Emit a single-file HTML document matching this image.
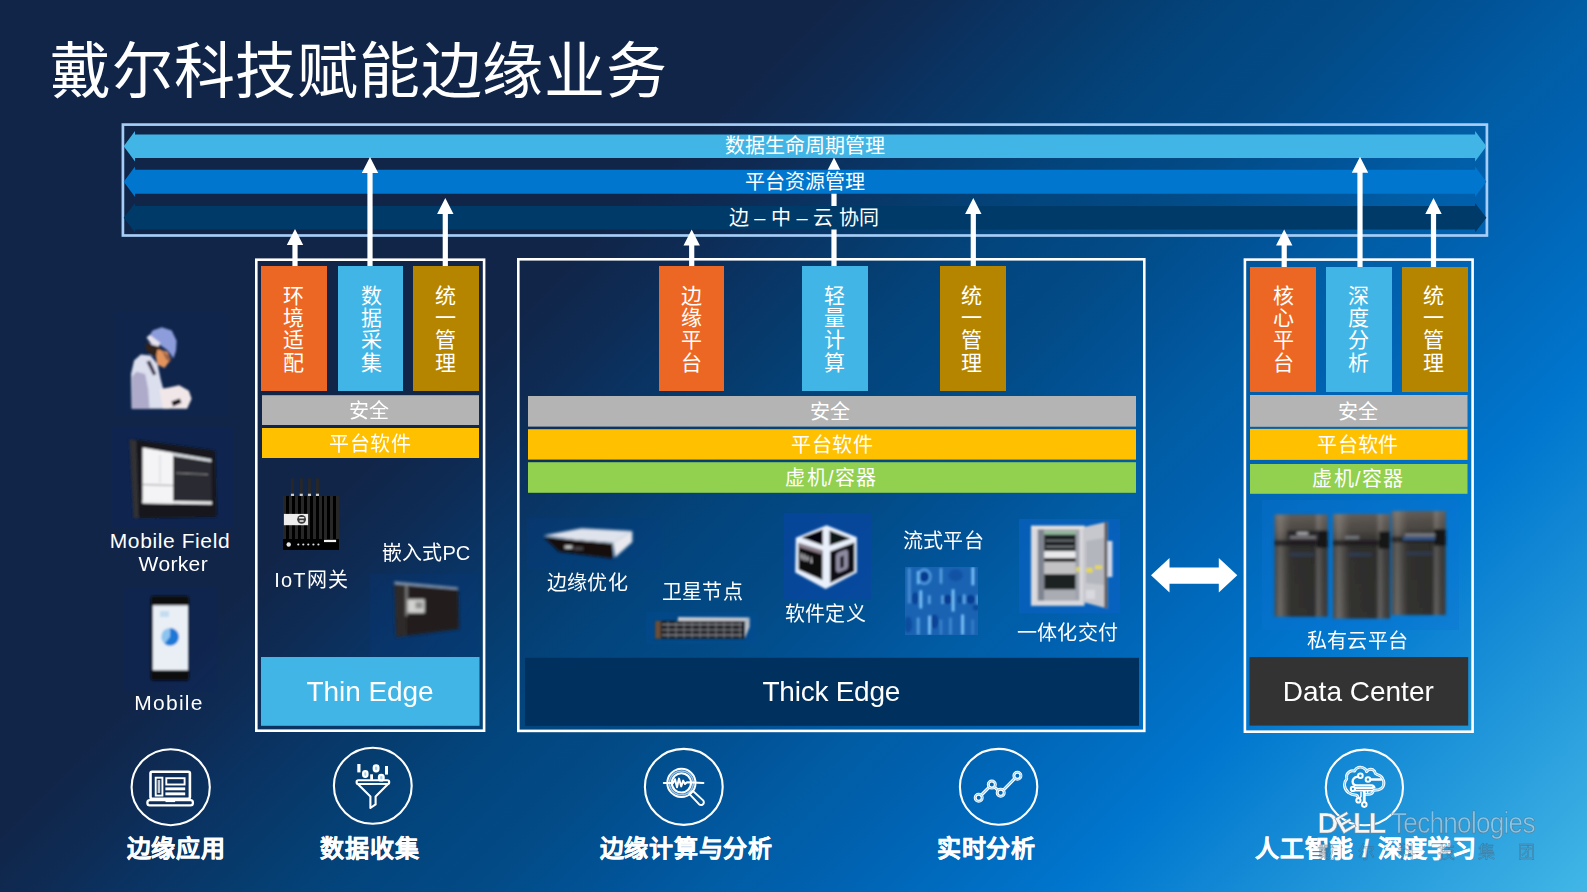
<!DOCTYPE html>
<html lang="zh-CN">
<head>
<meta charset="utf-8">
<title>戴尔科技赋能边缘业务</title>
<style>
*{margin:0;padding:0;box-sizing:border-box}
html,body{width:1587px;height:892px;overflow:hidden}
body{position:relative;font-family:"Liberation Sans",sans-serif;color:#fff;
background:linear-gradient(135deg,#112548 0%,#112548 33.5%,#0e2b54 37.5%,#0a3362 41%,#063c6e 45.2%,#03447c 49.3%,#024b87 55.4%,#01559b 61.3%,#015ca3 64%,#0060ae 68%,#0076ce 79%,#41b6e6 100%)}
svg{position:absolute;left:0;top:0}
.t{position:absolute;white-space:nowrap;line-height:1;color:#fff}
.c{text-align:center}
.title{left:50px;top:41.6px;font-size:61px;letter-spacing:.75px}
.band{font-size:20px}
.v{width:22px;font-size:21px;line-height:22.2px;white-space:normal;text-align:center;word-break:break-all}
.bar{font-size:20px;letter-spacing:.45px}
.lab{font-size:20px;letter-spacing:.4px}
.en{font-size:21px;letter-spacing:.35px}
.big{font-size:28px;letter-spacing:-.25px}
.bl{font-size:24px;font-weight:700;letter-spacing:.7px;-webkit-text-stroke:.35px #fff}
.lg1{left:1317.4px;top:809.1px;font-size:29px;font-weight:700;letter-spacing:-1.9px;color:#f4f6f8;-webkit-text-stroke:.7px rgba(120,130,140,.85)}
.lg1 .le{display:inline-block;transform:rotate(-30deg) scale(.88);margin:0 -.5px}
.lg2{left:1390.6px;top:809.1px;font-size:29px;letter-spacing:-.84px;color:rgba(222,235,245,.5);-webkit-text-stroke:.6px rgba(88,104,120,.75);transform-origin:0 0;transform:scaleX(.903)}
.lg3{left:1318px;top:844px;font-size:17px;color:rgba(120,140,160,.18);-webkit-text-stroke:.4px rgba(70,88,104,.65)}
.lg3 span{display:inline-block;width:40px}
</style>
</head>
<body>
<svg width="1587" height="892" viewBox="0 0 1587 892">
<defs><filter id="b1" x="-20%" y="-20%" width="140%" height="140%"><feGaussianBlur stdDeviation="0.9"/></filter><filter id="b2" x="-20%" y="-20%" width="140%" height="140%"><feGaussianBlur stdDeviation="1.6"/></filter><filter id="b05" x="-20%" y="-20%" width="140%" height="140%"><feGaussianBlur stdDeviation="0.5"/></filter></defs>
<rect x="122.9" y="124.6" width="1364" height="110.9" fill="none" stroke="#a6cdf6" stroke-width="2.7"/>
<path fill="#fff" d="M834 157.6L842.2 173.6L836.6 173.6L836.6 266L831.4 266L831.4 173.6L825.8 173.6Z"/>
<path fill="#41b6e6" d="M123.7 146.2L135.0 131.0L135.0 134.39999999999998L1475.1000000000001 134.39999999999998L1475.1000000000001 131.0L1486.4 146.2L1475.1000000000001 161.39999999999998L1475.1000000000001 158.0L135.0 158.0L135.0 161.39999999999998Z"/>
<path fill="#0076ce" d="M123.7 181.8L135.0 166.60000000000002L135.0 169.8L1475.1000000000001 169.8L1475.1000000000001 166.60000000000002L1486.4 181.8L1475.1000000000001 197.0L1475.1000000000001 193.8L135.0 193.8L135.0 197.0Z"/>
<path fill="#003a68" d="M123.7 217.7L135.0 203.0L135.0 205.89999999999998L1475.1000000000001 205.89999999999998L1475.1000000000001 203.0L1486.4 217.7L1475.1000000000001 232.39999999999998L1475.1000000000001 229.5L135.0 229.5L135.0 232.39999999999998Z"/>
<path fill="#fff" d="M295 229L303.2 245L297.6 245L297.6 267L292.4 267L292.4 245L286.8 245Z"/>
<path fill="#fff" d="M370 157L378.2 173L372.6 173L372.6 267L367.4 267L367.4 173L361.8 173Z"/>
<path fill="#fff" d="M445.3 198L453.5 214L447.90000000000003 214L447.90000000000003 267L442.7 267L442.7 214L437.1 214Z"/>
<path fill="#fff" d="M691.7 229.5L699.9000000000001 245.5L694.3000000000001 245.5L694.3000000000001 267L689.1 267L689.1 245.5L683.5 245.5Z"/>
<path fill="#fff" d="M973.3 198L981.5 214L975.9 214L975.9 267L970.6999999999999 267L970.6999999999999 214L965.0999999999999 214Z"/>
<path fill="#fff" d="M1284.2 229.4L1292.4 245.4L1286.8 245.4L1286.8 267L1281.6000000000001 267L1281.6000000000001 245.4L1276.0 245.4Z"/>
<path fill="#fff" d="M1360 156.8L1368.2 172.8L1362.6 172.8L1362.6 267L1357.4 267L1357.4 172.8L1351.8 172.8Z"/>
<path fill="#fff" d="M1433.5 198L1441.7 214L1436.1 214L1436.1 267L1430.9 267L1430.9 214L1425.3 214Z"/>
<rect x="256.3" y="259.7" width="227.79999999999998" height="471.0" fill="none" stroke="#fff" stroke-width="2.6"/>
<rect x="518.3" y="259.3" width="625.9999999999999" height="471.6" fill="none" stroke="#fff" stroke-width="2.6"/>
<rect x="1244.8999999999999" y="259.6" width="227.7000000000002" height="472.09999999999997" fill="none" stroke="#fff" stroke-width="2.6"/>
<rect x="261" y="266" width="66" height="125" fill="#ed6724"/>
<rect x="338" y="266" width="65" height="125" fill="#41b6e6"/>
<rect x="413" y="266" width="66" height="125" fill="#b58500"/>
<rect x="659" y="266" width="65" height="125" fill="#ed6724"/>
<rect x="802" y="266" width="66" height="125" fill="#41b6e6"/>
<rect x="940" y="266" width="66" height="125" fill="#b58500"/>
<rect x="1250" y="267" width="66" height="125" fill="#ed6724"/>
<rect x="1326" y="267" width="66" height="125" fill="#41b6e6"/>
<rect x="1402" y="267" width="66" height="125" fill="#b58500"/>
<rect x="262" y="395.2" width="217" height="29.8" fill="#b4b4b4"/>
<rect x="262" y="428" width="217" height="30" fill="#ffc000"/>
<rect x="528" y="396" width="608" height="30.6" fill="#b4b4b4"/>
<rect x="528" y="429.2" width="608" height="30.4" fill="#ffc000"/>
<rect x="528" y="462.2" width="608" height="30.6" fill="#92d050"/>
<rect x="1250" y="395" width="217.5" height="31.8" fill="#b4b4b4"/>
<rect x="1250" y="428.9" width="217.5" height="31.0" fill="#ffc000"/>
<rect x="1250" y="464" width="217.5" height="29.8" fill="#92d050"/>
<rect x="261" y="657" width="218.5" height="68.8" fill="#41b6e6"/>
<rect x="525" y="657.8" width="614" height="68.0" fill="#00305e"/>
<rect x="1249.5" y="657" width="218.7" height="68.6" fill="#333333"/>
<path fill="#fff" d="M1151 575.3L1169.5 558L1169.5 567.6L1218.8 567.6L1218.8 558L1237.3 575.3L1218.8 592.6L1218.8 583.8L1169.5 583.8L1169.5 592.6Z"/>
<!-- image backdrops (subtle saturated blue tint like pasted pictures) -->
<g opacity="0.38">
<rect x="113" y="312" width="114" height="104" fill="#0b2a63" opacity="0.5"/>
<rect x="112" y="428" width="122" height="100" fill="#0a2c70" opacity="0.6"/>
<rect x="124" y="588" width="94" height="104" fill="#0b2a68" opacity="0.5"/>
<rect x="370" y="574" width="108.5" height="82" fill="#063c86" opacity="0.55"/>
<rect x="527" y="518" width="134" height="52" fill="#053f8c" opacity="0.6"/>
<rect x="646" y="612" width="112" height="32" fill="#0552a8" opacity="0.5"/>
</g>
<rect x="784" y="513" width="87" height="87" fill="#0946a2" opacity="0.7"/>
<rect x="1019" y="519" width="101" height="94.5" fill="#0a62c6" opacity="0.6"/>
<rect x="1262" y="500" width="197" height="130" fill="#0b74d4" opacity="0.35"/>

<!-- worker -->
<defs><filter id="b12" x="-20%" y="-20%" width="140%" height="140%"><feGaussianBlur stdDeviation="1.15"/></filter></defs>
<g filter="url(#b12)">
<path d="M131.6 408.7L131.0 374.1L134.1 360.6L140.8 354.6L150.7 355.4L157.5 364.3L160.6 379.1L163.3 388.9L169.8 408.7Z" fill="#dcdfee"/>
<path d="M132.2 408.7L132.0 376.6L136.5 371.7L145.2 374.1L148.2 388.9L149.5 408.7Z" fill="#aeaaca"/>
<path d="M146.4 361.8L150.1 360.6L156.3 374.1L153.2 375.4Z" fill="#3b3650"/>
<path d="M145.2 343.1L159.3 345.5L162.4 352.6L154.4 355.9L146.4 351.3Z" fill="#33241f"/>
<path d="M157.5 349.2L167.7 351.7L170.7 359.6L164.5 368.0L157.4 364.5L155.9 356.9Z" fill="#e3945c"/>
<path d="M161.8 350.7L171.7 356.9L171.1 363.0L166.1 359.3Z" fill="#5a3a3a" opacity="0.55"/>
<path d="M149.2 336.1L152.6 330.4L161.8 327.3L171.7 330.4L176.6 340.8L176.0 350.7L173.5 358.3L168.0 350.7L158.7 343.9Z" fill="#8d9ddb"/>
<path d="M146.5 337.4L149.7 334.7L160.3 343.1L158.7 346.5L151.9 344.8Z" fill="#e7e3ee"/>
<path d="M159.3 388.9L168.0 387.7L179.1 385.2L188.9 390.8L191.6 398.8L187.1 408.7L163.0 408.7Z" fill="#f1e7e8"/>
<path d="M171.4 401.5L179.8 398.6L181.5 402.7L173.1 406.4Z" fill="#15101a"/>
</g>

<!-- tablet -->
<g filter="url(#b1)">
<path d="M129.5 439L215 450.5L216.8 517L133.5 518Z" fill="#17171a"/>
<path d="M129.5 439L136.5 440.5L139 518L133.5 518Z" fill="#303036"/>
<path d="M142.5 447.5L211.3 459.3L211.9 504.5L142.5 503.3Z" fill="#2b2c30"/>
<path d="M142.5 447.5L173.2 452.8L173.2 503.8L142.5 503.3Z" fill="#f4f4f6"/>
<path d="M173.2 452.8L211.3 459.3L211.3 462L173.2 456Z" fill="#d8dde2"/>
<path d="M142.5 500.5L211.9 501.6L211.9 504.5L142.5 503.3Z" fill="#f0f0f2"/>
<path d="M143 484.5L173 485.5" stroke="#9a9aa2" stroke-width="1"/>
<path d="M176 473L208 474.5" stroke="#8c8c90" stroke-width="1.2"/>
<path d="M160 455L160 483" stroke="#cfd2d8" stroke-width="1"/>
</g>

<!-- phone -->
<g filter="url(#b1)">
<rect x="150.8" y="596" width="38.2" height="84.6" rx="3" fill="#0c0c10"/>
<rect x="152.7" y="605.3" width="35.5" height="65" fill="#e9eff5"/>
<circle cx="170" cy="636.8" r="8.8" fill="#8cc4f0"/>
<path d="M170 628A8.8 8.8 0 1 1 164.5 643.7L170 636.8Z" fill="#1d78d6"/>
<rect x="160" y="611" width="9" height="6" fill="#c4dcf0"/>
</g>

<!-- IoT gateway (crisp) -->
<g>
<rect x="283" y="496" width="56" height="54" fill="#000"/>
<g fill="#272727">
<rect x="283" y="496" width="3" height="43"/><rect x="289" y="496" width="3" height="43"/><rect x="295" y="496" width="3" height="43"/><rect x="301" y="496" width="3" height="43"/><rect x="307" y="496" width="3" height="43"/><rect x="313" y="496" width="3" height="43"/><rect x="319" y="496" width="3" height="43"/><rect x="324" y="496" width="3" height="43"/><rect x="330" y="496" width="3" height="43"/><rect x="336" y="496" width="3" height="43"/>
<rect x="291" y="478.3" width="2.9" height="15.5"/><rect x="299.8" y="478.3" width="2.9" height="15.5"/><rect x="308" y="478.3" width="2.9" height="15.5"/><rect x="316" y="478.3" width="2.9" height="15.5"/>
</g>
<g fill="#c9c9c9"><rect x="290.9" y="493.7" width="3.1" height="2.3"/><rect x="299.7" y="493.7" width="3.1" height="2.3"/><rect x="307.9" y="493.7" width="3.1" height="2.3"/><rect x="315.9" y="493.7" width="3.1" height="2.3"/></g>
<rect x="283.9" y="513.9" width="24.2" height="11.3" fill="#ededed"/>
<circle cx="301.6" cy="519.3" r="4.4" fill="#3c3c3c"/>
<rect x="298.8" y="516.9" width="5.6" height="1.6" rx="0.8" fill="#ededed"/><rect x="299.4" y="520.3" width="4.4" height="1.5" rx="0.7" fill="#ededed"/>
<circle cx="288.7" cy="544.5" r="2.2" fill="#e8e8e8"/>
<g fill="#e0e0e0"><circle cx="298.3" cy="544.5" r="1.1"/><circle cx="303.3" cy="544.5" r="1.1"/><circle cx="308.3" cy="544.5" r="1.1"/><circle cx="313.4" cy="544.5" r="1.1"/><circle cx="318.4" cy="544.5" r="1.1"/></g>
<rect x="324" y="539.8" width="12.1" height="2.3" fill="#f2f2f2"/>
</g>

<!-- embedded PC -->
<g filter="url(#b2)">
<path d="M394.5 582L458 588L459 629L396 637Z" fill="#231f1c"/>
<path d="M394.5 582L406 583.2L407 635.5L396 637Z" fill="#2e2b29"/>
<path d="M394.5 581.5L458 587.5L458 589.5L394.5 584Z" fill="#8fa2bd"/>
<rect x="405.5" y="584" width="2" height="32" fill="#8a8a8a"/>
<rect x="407.6" y="599.3" width="17" height="13.6" fill="#d2d2d0"/>
<rect x="415.5" y="602" width="7" height="6.5" fill="#8e8e8e"/>
</g>

<!-- edge server -->
<g filter="url(#b2)">
<path d="M543.5 535.5L581.5 528.2L632.3 531L613.2 543L575 540Z" fill="#dfe3ec"/>
<path d="M543.8 537L612.8 543.6L612.8 558.6L559 551.6Z" fill="#160f0e"/>
<path d="M613 543L632.3 531L632.3 542L615 557.5Z" fill="#e9e9ef"/>
<rect x="565" y="546" width="7" height="2.2" fill="#e8e8e8"/>
<rect x="574" y="547.5" width="9" height="2" fill="#5a5a60"/>
</g>

<!-- rack server -->
<g filter="url(#b1)">
<path d="M678 617L749.6 617.6L744.8 622L678 621Z" fill="#c5c8cf"/>
<path d="M744.8 622L749.6 617.6L749.6 627L744.8 638.5Z" fill="#b9bdc6"/>
<rect x="655.2" y="621" width="89.6" height="17.6" fill="#1b1b1d"/>
<rect x="655.2" y="621" width="5.5" height="17.6" fill="#6a5038"/>
<g stroke="#9a9da6" stroke-width="1.3" fill="none" opacity="0.8">
<path d="M662 624.5h80M662 629.8h80M662 635h80"/>
<path d="M668 622v16M676 622v16M684 622v16M692 622v16M700 622v16M708 622v16M716 622v16M724 622v16M732 622v16M740 622v16" stroke-width="1"/>
</g>
</g>

<!-- cube -->
<g filter="url(#b1)">
<path d="M826.6 525.2L856.8 537.2L856.8 572.6L825.6 589L795.2 572.6L795.8 537.8Z" fill="#e9f0fb"/>
<path d="M801.5 537.6L822.6 529.6L822.6 545.2Z" fill="#050507"/>
<path d="M829.6 530.6L850.6 538.4L829.6 545.4Z" fill="#0a1216"/>
<path d="M798.6 543L822.4 550.6L822.4 580L798.6 569.4Z" fill="#0d0b10"/>
<path d="M798.6 543L822.4 550.6L822.4 554.6L798.6 547Z" fill="#8d7f8a"/>
<path d="M830.2 551.6L854.4 542.6L854.4 571.4L830.2 583Z" fill="#0b0a12"/>
<path d="M836 556Q836 553 839 552L846 549.5Q848 549.5 848 552L848 566Q848 569 845 570L839 572.5Q836 573 836 570Z" fill="#8d8aa0"/>
<path d="M840 557L844 555.5L844 567L840 568.5Z" fill="#23202c"/>
<path d="M801 553l1 7M804 554l1 7M807 555.5l1 6M811 557l0.5 6" stroke="#e8e8ee" stroke-width="1.1"/>
</g>

<!-- data stream tile -->
<g>
<rect x="905" y="567" width="73" height="68" fill="#1a63b3"/>
<clipPath id="tc"><rect x="905" y="567" width="73" height="68"/></clipPath>
<g clip-path="url(#tc)"><g filter="url(#b1)">
<g fill="#00378c">
<ellipse cx="924.3" cy="576.7" rx="4.2" ry="4.8" opacity="0.9"/><ellipse cx="915.2" cy="598.4" rx="3.8" ry="6.1" opacity="0.7"/><ellipse cx="948.0" cy="599.4" rx="6.1" ry="4.5" opacity="0.85"/><ellipse cx="970.7" cy="599.4" rx="4.0" ry="4.5" opacity="0.85"/><ellipse cx="934.4" cy="621.6" rx="4.2" ry="7.1" opacity="0.7"/><ellipse cx="975.8" cy="607.5" rx="3.0" ry="3.0" opacity="0.6"/><ellipse cx="955.6" cy="575.2" rx="7.1" ry="6.1" opacity="0.35"/><ellipse cx="908.2" cy="624.6" rx="4.0" ry="8.1" opacity="0.5"/><ellipse cx="959.6" cy="599.4" rx="2.5" ry="4.0" opacity="0.5"/>
</g>
<g fill="#7cc4fb">
<rect x="907.7" y="568.1" width="3.0" height="35.3" opacity="0.45"/><rect x="916.9" y="571.1" width="2.6" height="13.1" opacity="0.95"/><rect x="939.8" y="568.1" width="2.4" height="15.6" opacity="0.7"/><rect x="971.5" y="567.1" width="2.8" height="18.2" opacity="1"/><rect x="919.4" y="590.3" width="2.8" height="18.2" opacity="1"/><rect x="928.2" y="595.4" width="2.2" height="8.6" opacity="0.8"/><rect x="941.4" y="595.4" width="2.2" height="8.6" opacity="0.8"/><rect x="951.7" y="589.3" width="2.8" height="22.2" opacity="1"/><rect x="963.1" y="594.4" width="2.2" height="9.6" opacity="0.85"/><rect x="976.5" y="594.9" width="1.8" height="9.1" opacity="0.8"/><rect x="916.8" y="617.6" width="2.8" height="17.2" opacity="0.6"/><rect x="928.1" y="615.6" width="2.8" height="19.2" opacity="1"/><rect x="961.1" y="614.5" width="3.0" height="20.2" opacity="0.95"/><rect x="949.2" y="617.6" width="2.6" height="17.2" opacity="0.4"/><rect x="939.8" y="619.6" width="2.4" height="15.1" opacity="0.35"/><rect x="971.5" y="619.6" width="2.4" height="15.1" opacity="0.3"/>
</g>
<ellipse cx="924.3" cy="576.7" rx="6.3" ry="7.2" fill="none" stroke="#6db6f3" stroke-width="1.8" opacity="0.8"/>
</g></g>
</g>

<!-- cabinet -->
<g filter="url(#b1)">
<rect x="1031" y="525.8" width="53.5" height="80" fill="#d9d9de"/>
<rect x="1037.5" y="529.5" width="42" height="71" fill="#9fa3ab"/>
<rect x="1038" y="529.5" width="6" height="71" fill="#7f8590"/>
<rect x="1044.3" y="531.5" width="31.2" height="3" fill="#8fbf9a"/>
<rect x="1044.3" y="534.7" width="31.2" height="16.5" fill="#1e2123"/>
<rect x="1046" y="540" width="28" height="1.3" fill="#7a7f85"/>
<rect x="1046" y="546" width="28" height="1.3" fill="#8a8f95"/>
<rect x="1044.3" y="551.2" width="31.2" height="7" fill="#e9e9ec"/>
<rect x="1044.3" y="558" width="31.2" height="3.8" fill="#17181a"/>
<rect x="1044.3" y="561.8" width="31.2" height="12.4" fill="#c2c2c4"/>
<rect x="1044.3" y="574.2" width="31.2" height="15.4" fill="#1f2223"/>
<rect x="1044.3" y="589.6" width="31.2" height="10" fill="#a9acb3"/>
<path d="M1082.8 527.3L1107.4 521.8L1107.4 608.6L1082.8 601.9Z" fill="#c7c8ce"/>
<path d="M1086 541L1104 538L1104 585L1086 583Z" fill="#b4b6be"/>
<rect x="1104.5" y="522" width="2.6" height="86" fill="#5a4a42"/>
<rect x="1107.4" y="541" width="5" height="36" fill="#d3d8e6"/>
<rect x="1086.5" y="568" width="6" height="4.5" fill="#e8d84a"/>
<rect x="1095" y="565.5" width="7" height="3.5" fill="#e8d84a"/>
<rect x="1076" y="567" width="4" height="5" fill="#d8cf6a"/>
<rect x="1086" y="590" width="9" height="9" fill="#d9dadf"/>
<rect x="1031" y="525.8" width="53.5" height="2.6" fill="#ece4de"/>
</g>

<!-- storage racks -->
<defs>
<linearGradient id="rk" x1="0" x2="1" y1="0" y2="0">
<stop offset="0" stop-color="#4a4846"/><stop offset="0.1" stop-color="#77746f"/><stop offset="0.22" stop-color="#4d4a47"/><stop offset="0.3" stop-color="#343331"/><stop offset="0.75" stop-color="#2f2f2d"/><stop offset="0.82" stop-color="#6e6c6a"/><stop offset="0.9" stop-color="#4a4846"/><stop offset="1" stop-color="#3a3836"/>
</linearGradient>
<linearGradient id="rkv" x1="0" x2="0" y1="0" y2="1">
<stop offset="0" stop-color="#8a8078" stop-opacity="0.55"/><stop offset="0.16" stop-color="#70665e" stop-opacity="0.4"/><stop offset="0.3" stop-color="#222" stop-opacity="0.25"/><stop offset="1" stop-color="#222" stop-opacity="0.1"/>
</linearGradient>
</defs>
<g filter="url(#b2)">
<g id="rack1">
<rect x="1274.6" y="514.6" width="53" height="102" fill="url(#rk)"/>
<rect x="1274.6" y="514.6" width="53" height="102" fill="url(#rkv)"/>
<rect x="1274.6" y="540" width="53" height="6" fill="#1b1a1c" opacity="0.75"/>
<rect x="1317" y="530.5" width="10.6" height="17.5" fill="#121214"/>
<rect x="1287" y="530.5" width="32" height="8.5" fill="#26262a"/>
<rect x="1297" y="532.4" width="11" height="2.2" fill="#c8c8cc"/>
<rect x="1290" y="536.5" width="26" height="1.6" fill="#9a9aa0"/>
<rect x="1290" y="553" width="24" height="3" fill="#2d4f8a" opacity="0.4"/>
</g>
<g>
<rect x="1333" y="514" width="57" height="104.5" fill="url(#rk)"/>
<rect x="1333" y="514" width="57" height="104.5" fill="url(#rkv)"/>
<rect x="1333" y="540" width="57" height="6" fill="#1b1a1c" opacity="0.75"/>
<rect x="1379" y="531.5" width="11" height="17.5" fill="#121214"/>
<rect x="1345" y="536.5" width="14" height="2" fill="#8a8f98"/>
<rect x="1348" y="553" width="24" height="3" fill="#2d4f8a" opacity="0.4"/>
</g>
<g>
<rect x="1391.6" y="511" width="54" height="104" fill="url(#rk)"/>
<rect x="1391.6" y="511" width="54" height="104" fill="url(#rkv)"/>
<rect x="1391.6" y="536.5" width="54" height="6" fill="#1b1a1c" opacity="0.75"/>
<rect x="1434" y="529" width="11.6" height="17" fill="#121214"/>
<rect x="1405" y="534" width="30" height="2" fill="#8a8f98"/>
<rect x="1403" y="537.5" width="32" height="2" fill="#3a70b8"/>
<rect x="1406" y="552" width="26" height="3" fill="#2d4f8a" opacity="0.4"/>
</g>
</g>

<!-- icon circles -->
<g fill="none" stroke="#fff" stroke-width="2.1">
<ellipse cx="170.7" cy="787.2" rx="39.1" ry="38"/>
<ellipse cx="372.8" cy="785.8" rx="38.9" ry="38"/>
<ellipse cx="683.8" cy="786.9" rx="38.9" ry="38"/>
<ellipse cx="998.6" cy="786.8" rx="38.7" ry="37.9"/>
<ellipse cx="1364.4" cy="787.4" rx="38.6" ry="37.8"/>
</g>
<!-- laptop -->
<g fill="none" stroke="#fff" stroke-width="2.6" stroke-linejoin="round">
<rect x="150.5" y="771.7" width="39.4" height="27" rx="1.6"/>
<rect x="147.4" y="800.2" width="45.5" height="5.2" rx="2.4" stroke-width="2.3"/>
</g>
<rect x="165.5" y="798.7" width="9.6" height="3.4" fill="#fff"/>
<g fill="none" stroke="#fff" stroke-width="1.9">
<rect x="155.7" y="777.7" width="6.7" height="17.9"/>
<rect x="166.3" y="778.2" width="18.3" height="6.3"/>
</g>
<rect x="157.6" y="780" width="2.6" height="13" fill="#fff" opacity="0.75"/>
<rect x="165.4" y="787.4" width="19.8" height="2.9" fill="#fff"/>
<rect x="165.4" y="792.4" width="19.8" height="2.9" fill="#fff"/>
<!-- funnel -->
<g fill="none" stroke="#fff" stroke-width="2.1" stroke-linejoin="round" stroke-linecap="round">
<rect x="356.6" y="780.3" width="32.6" height="3.7" rx="1.8"/>
<path d="M358.3 784.6L370.4 796.4L370.4 808L375.6 804.4L375.6 796.4L387.6 784.6"/>
</g>
<path d="M369 783.6Q378 786.4 388 783.6Z" fill="#dff1ff"/>
<g fill="#fff">
<rect x="357.3" y="764" width="3.2" height="8.4"/>
<rect x="370.2" y="774.3" width="2.8" height="5.5"/>
<rect x="385" y="766" width="3" height="8.6"/>
</g>
<g fill="#9fd2f7" stroke="#fff" stroke-width="2.3">
<rect x="363.2" y="771.1" width="4.2" height="5.7" rx="2"/>
<rect x="373.8" y="765.3" width="4.6" height="6" rx="2.2"/>
<rect x="379" y="774.9" width="4.6" height="5.5" rx="2.2"/>
</g>
<!-- magnifier -->
<g fill="none" stroke="#fff">
<circle cx="681.4" cy="782.9" r="14.1" stroke-width="2"/>
<circle cx="681.4" cy="782.9" r="11.9" stroke="#bfe2ff" stroke-width="1.6" opacity="0.8"/>
<circle cx="681.4" cy="782.9" r="9.6" stroke-width="2.1"/>
<path d="M663.8 782.9L673.2 782.9L675 779.2L677 787.2L679 778.6L681.2 786.4L683.2 780.6L685 784L687 782.3L703.4 782.9" stroke-width="2" stroke-linejoin="round" stroke-linecap="round"/>
<path d="M689.3 793.9L692.7 790.8L703.4 800.6Q704.6 803 702.8 804.4Q701 805.8 699 804.2Z" stroke-width="1.9" stroke-linejoin="round"/>
</g>
<!-- line chart -->
<g fill="none" stroke="#fff" stroke-linecap="round">
<path d="M981.4 795L989.2 787.2M995 787.6L997.8 790M1003.6 789.8L1014.6 778.6" stroke-width="3.2"/>
<path d="M981.4 795L989.2 787.2M995 787.6L997.8 790M1003.6 789.8L1014.6 778.6" stroke="#49a8ec" stroke-width="0.9"/>
<circle cx="978.7" cy="797.7" r="3.5" stroke-width="3"/>
<circle cx="991.8" cy="784.6" r="3.5" stroke-width="3"/>
<circle cx="1000.7" cy="792.7" r="3.5" stroke-width="3"/>
<circle cx="1017.4" cy="775.8" r="3.5" stroke-width="3"/>
<g stroke="#7cc4f5" stroke-width="0.8"><circle cx="978.7" cy="797.7" r="3.7"/><circle cx="991.8" cy="784.6" r="3.7"/><circle cx="1000.7" cy="792.7" r="3.7"/><circle cx="1017.4" cy="775.8" r="3.7"/></g>
</g>
<!-- brain -->
<g fill="none" stroke="#fff" stroke-linejoin="round" stroke-linecap="round">
<path d="M1365.4 794.4L1368.3 794.4Q1372.4 794.2 1373 791.6Q1373.4 790.4 1374.2 790.3L1378.8 789.7Q1382.4 788.8 1383.5 785.6Q1384.6 781.8 1382.9 779.2Q1381.6 775.6 1377.4 774.6Q1376.4 774.2 1375.3 773.4Q1375 771 1373.2 769.9Q1370.6 768.6 1368.6 769.8Q1367.4 770.6 1366.6 771.7Q1366.2 769.6 1364.8 768.7Q1361.6 766.4 1358.4 767.4Q1355.6 768.4 1354.6 771Q1351.6 770.4 1349.4 771.8Q1346 774 1346.6 777.6Q1346.8 778.4 1346.6 779.2Q1344.2 781.6 1344.4 785Q1344.8 789.6 1348.4 792.6Q1351.6 794.8 1356.4 795.2Q1357.4 795.4 1357.6 796.4L1358 797.4" stroke-width="2.9"/>
<path d="M1365.4 794.4L1368.3 794.4Q1372.4 794.2 1373 791.6Q1373.4 790.4 1374.2 790.3L1378.8 789.7Q1382.4 788.8 1383.5 785.6Q1384.6 781.8 1382.9 779.2Q1381.6 775.6 1377.4 774.6Q1376.4 774.2 1375.3 773.4Q1375 771 1373.2 769.9Q1370.6 768.6 1368.6 769.8Q1367.4 770.6 1366.6 771.7Q1366.2 769.6 1364.8 768.7Q1361.6 766.4 1358.4 767.4Q1355.6 768.4 1354.6 771Q1351.6 770.4 1349.4 771.8Q1346 774 1346.6 777.6Q1346.8 778.4 1346.6 779.2Q1344.2 781.6 1344.4 785Q1344.8 789.6 1348.4 792.6Q1351.6 794.8 1356.4 795.2Q1357.4 795.4 1357.6 796.4L1358 797.4" stroke="#4fb0ee" stroke-width="0.7"/>
<path d="M1357.6 776.6Q1352.6 777.6 1352.6 781.6Q1352.8 785.2 1356.6 785.4L1372 785.4Q1373.6 785.6 1374.4 787.4" stroke-width="2.3"/>
<path d="M1371 779.5L1381 779.5" stroke-width="2.6"/>
<path d="M1355.6 788L1373 788" stroke-width="1.9"/>
<path d="M1355.4 790.6L1372.6 790.6" stroke-width="1.9"/>
<path d="M1364.3 791.6L1364.3 801.6" stroke-width="2.8"/>
<path d="M1361 792.2L1361 796.6L1359.6 798" stroke-width="1.5"/>
<path d="M1367.6 791.6L1367.6 793.6" stroke-width="1.5"/>
<g stroke-width="2">
<circle cx="1360.4" cy="775.7" r="2.3"/><circle cx="1368" cy="779.5" r="2.3"/><circle cx="1352.9" cy="788.9" r="2.1"/><circle cx="1358.4" cy="800.4" r="2.1"/><circle cx="1364.3" cy="804.6" r="2.3"/>
</g>
</g>

</svg>
<div class="t title">戴尔科技赋能边缘业务</div>
<div class="t c band" style="left:604.6px;top:136.2px;width:400px;">数据生命周期管理</div>
<div class="t c band" style="left:605.0px;top:171.5px;width:400px;">平台资源管理</div>
<div class="t c band" style="left:603.8px;top:208px;width:400px;">边 – 中 – 云 协同</div>
<div class="t v" style="left:282.5px;top:285px">环境适配</div>
<div class="t v" style="left:360.2px;top:285px">数据采集</div>
<div class="t v" style="left:434.3px;top:285px">统一管理</div>
<div class="t v" style="left:680.5px;top:285px">边缘平台</div>
<div class="t v" style="left:823.7px;top:285px">轻量计算</div>
<div class="t v" style="left:960.8px;top:285px">统一管理</div>
<div class="t v" style="left:1272px;top:285px">核心平台</div>
<div class="t v" style="left:1347.3px;top:285px">深度分析</div>
<div class="t v" style="left:1422.5px;top:285px">统一管理</div>
<div class="t c bar" style="left:169.5px;top:401.2px;width:400px;">安全</div>
<div class="t c bar" style="left:170.3px;top:434.2px;width:400px;">平台软件</div>
<div class="t c bar" style="left:630.2px;top:402.3px;width:400px;">安全</div>
<div class="t c bar" style="left:632.2px;top:435.4px;width:400px;">平台软件</div>
<div class="t c bar" style="left:631.4px;top:468.2px;width:400px;letter-spacing:1.4px">虚机/容器</div>
<div class="t c bar" style="left:1158.0px;top:401.5px;width:400px;">安全</div>
<div class="t c bar" style="left:1158.0px;top:435px;width:400px;">平台软件</div>
<div class="t c bar" style="left:1158.5px;top:469.3px;width:400px;letter-spacing:1.4px">虚机/容器</div>
<div class="t c en" style="left:-30.0px;top:529.5px;width:400px;letter-spacing:.6px">Mobile Field</div>
<div class="t c en" style="left:-26.69999999999999px;top:553.3px;width:400px;">Worker</div>
<div class="t c en" style="left:-31.0px;top:692.3px;width:400px;letter-spacing:1.25px">Mobile</div>
<div class="t c lab" style="left:111.60000000000002px;top:569.6px;width:400px;letter-spacing:1.2px">IoT网关</div>
<div class="t c lab" style="left:226.3px;top:543px;width:400px;letter-spacing:0">嵌入式PC</div>
<div class="t c lab" style="left:387.5px;top:573px;width:400px;">边缘优化</div>
<div class="t c lab" style="left:502.5px;top:582px;width:400px;">卫星节点</div>
<div class="t c lab" style="left:625.5px;top:604px;width:400px;">软件定义</div>
<div class="t c lab" style="left:743.5px;top:531px;width:400px;">流式平台</div>
<div class="t c lab" style="left:867.5px;top:622.5px;width:400px;">一体化交付</div>
<div class="t c lab" style="left:1157.7px;top:631px;width:400px;">私有云平台</div>
<div class="t c big" style="left:170.0px;top:678px;width:400px;letter-spacing:-.08px">Thin Edge</div>
<div class="t c big" style="left:631.3px;top:678px;width:400px;">Thick Edge</div>
<div class="t c big" style="left:1158.3px;top:678px;width:400px;letter-spacing:0">Data Center</div>
<div class="t c bl" style="left:-24.0px;top:837.3px;width:400px;">边缘应用</div>
<div class="t c bl" style="left:169.89999999999998px;top:837.3px;width:400px;">数据收集</div>
<div class="t c bl" style="left:486.20000000000005px;top:837.3px;width:400px;">边缘计算与分析</div>
<div class="t c bl" style="left:786.3px;top:837.3px;width:400px;">实时分析</div>
<div class="t c bl" style="left:1166.0px;top:837.3px;width:400px;word-spacing:.8px">人工智能 / 深度学习</div>
<div class="t lg1">D<span class="le">E</span>LL</div>
<div class="t lg2">Technologies</div>
<div class="t lg3"><span>戴</span><span>尔</span><span>科</span><span>技</span><span>集</span><span>团</span></div>
</body>
</html>
